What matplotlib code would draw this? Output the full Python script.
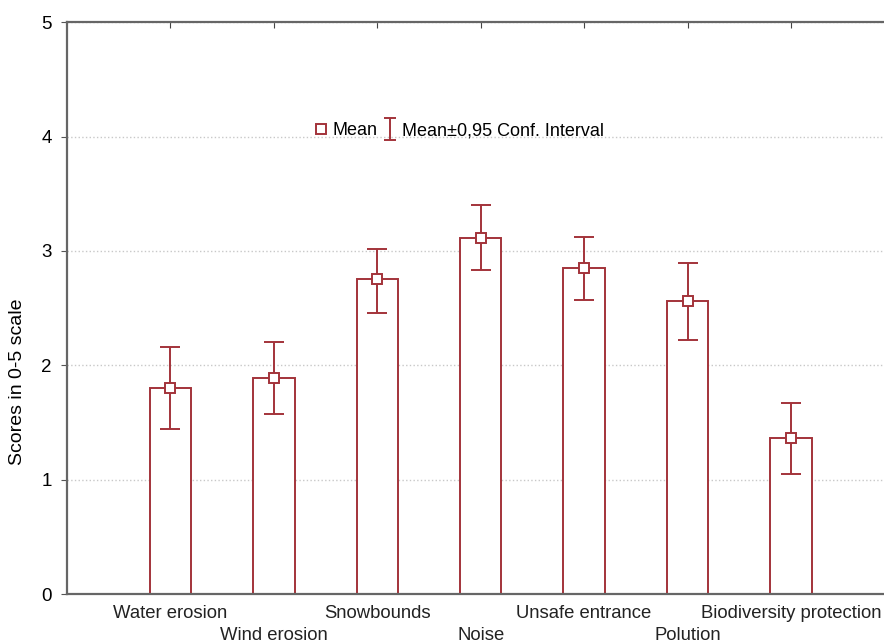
import numpy as np
import matplotlib.pyplot as plt
from matplotlib.lines import Line2D
from matplotlib.path import Path

plt.rcParams['font.family'] = ['Liberation Sans', 'DejaVu Sans']

# scores per threat: mean and 0,95 confidence bounds
categories = ['Water erosion', 'Wind erosion', 'Snowbounds', 'Noise',
              'Unsafe entrance', 'Polution', 'Biodiversity protection']
means = [1.80, 1.89, 2.75, 3.11, 2.85, 2.56, 1.36]
ci_low = [1.44, 1.57, 2.46, 2.83, 2.57, 2.22, 1.05]
ci_high = [2.16, 2.20, 3.02, 3.40, 3.12, 2.89, 1.67]

red = '#a3333a'
x = np.arange(len(categories))
means_a = np.array(means)
yerr = [means_a - np.array(ci_low), np.array(ci_high) - means_a]

fig = plt.figure(figsize=(8.84, 6.44), dpi=100)
ax = fig.add_axes([0.0758, 0.0776, 0.9242, 0.888])

ax.bar(x, means, width=0.4, color='white', edgecolor=red, linewidth=1.4, zorder=2)
ax.errorbar(x, means, yerr=yerr, fmt='none', ecolor=red, elinewidth=1.4,
            capsize=7, capthick=1.4, zorder=3)
ax.plot(x, means, 's', ms=6.5, mfc='white', mec=red, mew=1.4, zorder=4)

ax.set_ylim(0, 5)
ax.set_xlim(-1, 6.9)
ax.set_yticks([0, 1, 2, 3, 4, 5])
ax.yaxis.grid(True, linestyle=':', color='#c8c8c8', linewidth=1)
ax.set_axisbelow(True)

ax.set_xticks(x)
ax.set_xticklabels(categories, fontsize=13.3, color='#222222')
ax.tick_params(axis='x', direction='in', length=4, color='#444444', pad=8,
               top=True)
ax.tick_params(axis='y', direction='out', length=4, color='#555555',
               labelsize=13.5, pad=7)
# every second label goes on a lower row
for i, t in enumerate(ax.xaxis.get_major_ticks()):
    if i % 2 == 1:
        t.set_pad(24)

ax.spines['right'].set_visible(False)
for s in ['left', 'bottom', 'top']:
    ax.spines[s].set_color('#666666')
    ax.spines[s].set_linewidth(1.6)

fig.text(18 / 884, 1 - 382 / 644, 'Scores in 0-5 scale', fontsize=14,
         rotation=90, ha='center', va='center')

# "I" shaped marker for the confidence interval entry
ibar = Path([(-0.5, 1), (0.5, 1), (0, 1), (0, -1), (-0.5, -1), (0.5, -1)],
            [Path.MOVETO, Path.LINETO, Path.MOVETO, Path.LINETO,
             Path.MOVETO, Path.LINETO])
h_mean = Line2D([], [], marker='s', ls='none', ms=7, mfc='white', mec=red, mew=1.4)
h_ci = Line2D([], [], marker=ibar, ls='none', ms=16, mfc='none', mec=red, mew=1.4)
ax.legend([h_mean, h_ci], ['Mean', 'Mean\u00b10,95 Conf. Interval'],
          loc='center left', bbox_to_anchor=(0.282, 0.81), ncol=2, frameon=False,
          fontsize=13, handlelength=0.8, handletextpad=0.25, columnspacing=0.3)

fig.savefig('out.png', dpi=100)
